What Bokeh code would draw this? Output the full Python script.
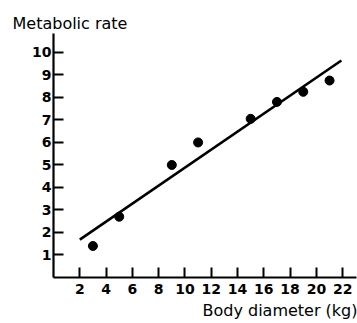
from bokeh.plotting import figure
from bokeh.models import Range1d, FixedTicker, Title
from bokeh.embed import file_html
from bokeh.resources import INLINE

# data
body_diameter = [3, 5, 9, 11, 15, 17, 19, 21]
metabolic_rate = [1.4, 2.7, 5.0, 6.0, 7.05, 7.8, 8.25, 8.75]
fit_x = [2.0, 21.9]
fit_y = [1.68, 9.64]
x_ticks = [2, 4, 6, 8, 10, 12, 14, 16, 18, 20, 22]
y_ticks = [1, 2, 3, 4, 5, 6, 7, 8, 9, 10]
x_title = "Body diameter (kg)"
y_title = "Metabolic rate"

FONT = "DejaVu Sans"
W, H = 357, 323
LEFT, TOP, BOTTOM = 53, 33, 46

p = figure(width=W, height=H, output_backend="svg", toolbar_location=None,
           x_range=Range1d(0, 23.05), y_range=Range1d(0, 10.84),
           min_border_left=LEFT, min_border_right=1, min_border_top=TOP, min_border_bottom=BOTTOM)
p.outline_line_color = None
p.grid.visible = False
p.background_fill_color = "white"

for ax in (p.xaxis[0], p.yaxis[0]):
    ax.axis_line_width = 2.2
    ax.axis_line_color = "black"
    ax.major_tick_in = 10
    ax.major_tick_out = 0
    ax.major_tick_line_width = 2
    ax.major_tick_line_color = "black"
    ax.minor_tick_line_color = None
    ax.major_label_text_font = FONT
    ax.major_label_text_font_style = "bold"
    ax.major_label_text_font_size = "14px"
    ax.major_label_text_color = "black"

p.xaxis[0].ticker = FixedTicker(ticks=x_ticks)
p.yaxis[0].ticker = FixedTicker(ticks=y_ticks)
p.xaxis[0].major_label_standoff = 6
p.yaxis[0].major_label_standoff = 2

p.line(fit_x, fit_y, line_width=2.6, line_color="black")
p.scatter(body_diameter, metabolic_rate, size=9, color="black")

p.add_layout(Title(text=y_title, align="left", offset=-41, standoff=2,
                   text_font=FONT, text_font_size="16px", text_font_style="normal",
                   text_color="black"), "above")
p.add_layout(Title(text=x_title, align="right", offset=-1, standoff=4,
                   text_font=FONT, text_font_size="16px", text_font_style="normal",
                   text_color="black"), "below")

open("out.html", "w").write(file_html(p, INLINE))
